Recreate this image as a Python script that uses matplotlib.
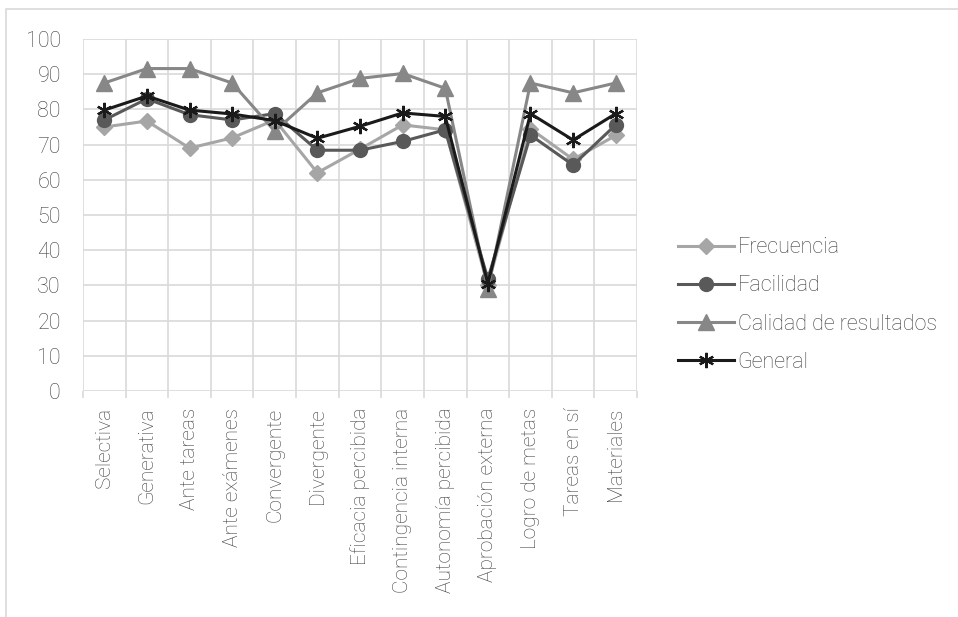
import matplotlib
matplotlib.use("Agg")
import matplotlib.pyplot as plt
from matplotlib.patches import Rectangle
import numpy as np

categories = ["Selectiva", "Generativa", "Ante tareas", "Ante exámenes", "Convergente",
              "Divergente", "Eficacia percibida", "Contingencia interna", "Autonomía percibida",
              "Aprobación externa", "Logro de metas", "Tareas en sí", "Materiales"]
frecuencia = [75.0, 76.7, 69.0, 71.9, 77.0, 62.0, 68.7, 75.6, 74.2, 30.0, 74.5, 65.8, 72.6]
facilidad = [77.0, 83.0, 78.5, 77.0, 78.8, 68.4, 68.4, 70.9, 74.2, 31.8, 72.7, 64.2, 75.6]
calidad = [87.5, 91.6, 91.6, 87.5, 73.8, 84.7, 88.8, 90.2, 86.0, 29.0, 87.5, 84.7, 87.5]
general = [79.8, 83.8, 79.8, 78.7, 76.8, 71.8, 75.2, 79.0, 78.0, 30.5, 78.8, 71.3, 78.8]
yticks = [0, 10, 20, 30, 40, 50, 60, 70, 80, 90, 100]

plt.rcParams['font.family'] = ['Roboto', 'DejaVu Sans']
plt.rcParams['font.weight'] = 'light'
text_color = '#404040'
grid_color = '#D9D9D9'

fig = plt.figure(figsize=(9.58, 6.17), dpi=100)
fig.patches.append(Rectangle((6/958, -0.1), 1.2, 1 - 9/617 + 0.1, transform=fig.transFigure,
                             fill=False, edgecolor='#D9D9D9', linewidth=1.2))
ax = fig.add_axes([83/958, 1 - 391/617, (637 - 83)/958, (391 - 39)/617])

x = np.arange(len(categories))
series = [
    ("Frecuencia", frecuencia, '#A6A6A6', 'D', 8.5, 1.0),
    ("Facilidad", facilidad, '#595959', 'o', 10, 1.0),
    ("Calidad de resultados", calidad, '#878787', '^', 11, 1.0),
    ("General", general, '#1A1A1A', (6, 2, 0), 11, 1.6),
]
for name, vals, col, mk, ms, mew in series:
    ax.plot(x, vals, color=col, lw=2.2, marker=mk, markersize=ms,
            markerfacecolor=col, markeredgecolor=col, markeredgewidth=mew, label=name)

ax.set_xlim(-0.5, len(categories) - 0.5)
ax.set_ylim(0, 100)
ax.set_yticks(yticks)
ax.set_yticklabels([str(v) for v in yticks])
ax.set_xticks(x)
ax.set_xticklabels(categories, rotation=90)
ax.set_xticks(np.arange(-0.5, len(categories)), minor=True)
ax.grid(False)
for v in yticks:
    ax.axhline(v, color=grid_color, lw=1.2, zorder=0)
for b in np.arange(-0.5, len(categories)):
    ax.axvline(b, color=grid_color, lw=1.2, zorder=0)
for s in ax.spines.values():
    s.set_visible(False)
ax.tick_params(axis='x', which='major', length=0, pad=12, labelsize=15, labelcolor=text_color)
ax.tick_params(axis='x', which='minor', length=5, color=grid_color, width=1.2)
ax.tick_params(axis='y', length=0, pad=16, labelsize=15.5, labelcolor=text_color)

leg = fig.legend(loc='center left', bbox_to_anchor=(659/958, 1 - 305/617), frameon=False,
                 fontsize=15.5, labelcolor=text_color, handlelength=2.6, labelspacing=0.8,
                 handletextpad=0.15)

fig.savefig("out.png", dpi=100)
